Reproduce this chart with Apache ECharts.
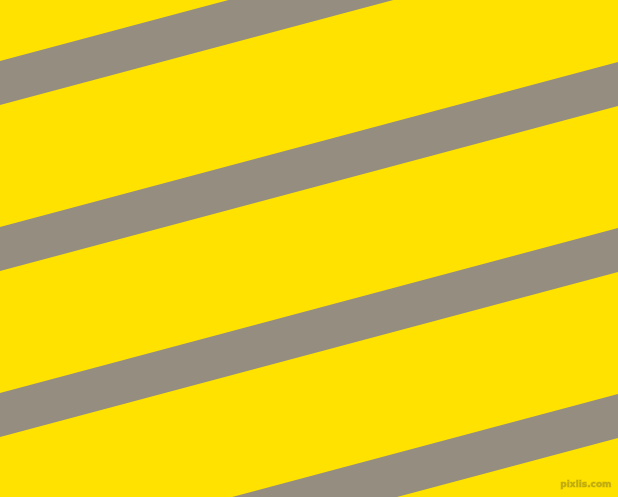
<!DOCTYPE html>
<html>
<head>
<meta charset="utf-8">
<script src="https://cdn.jsdelivr.net/npm/echarts@6/dist/echarts.min.js"></script>
<style>
  html, body { margin: 0; padding: 0; background: #FFE200; }
  #main { width: 618px; height: 497px; }
</style>
</head>
<body>
<div id="main"></div>
<script>
// stripes: y of the top edge at the left (x=0) and right (x=618) sides
var stripeLeftTop = [61, 227, 393, 559];
var stripeRightTop = [-104, 62, 228, 394];
var stripeThickness = [44, 44, 44, 44];
var watermark = 'pixlis.com';

var myChart = echarts.init(document.getElementById('main'));

var stripeData = [];
for (var i = 0; i < stripeLeftTop.length; i++) {
  stripeData.push([stripeLeftTop[i], stripeRightTop[i], stripeThickness[i]]);
}

myChart.setOption({
  backgroundColor: '#FFE200',
  animation: false,
  grid: { left: 0, right: 0, top: 0, bottom: 0 },
  xAxis: { type: 'value', min: 0, max: 618, show: false },
  yAxis: { type: 'value', min: 0, max: 497, inverse: true, show: false },
  graphic: [{
    type: 'text',
    right: 6,
    bottom: 7,
    style: {
      text: watermark,
      fill: 'rgba(160,145,30,0.6)',
      stroke: 'rgba(200,180,0,0.5)',
      lineWidth: 1,
      font: 'bold 9px Verdana, "DejaVu Sans", sans-serif'
    }
  }],
  series: [{
    type: 'custom',
    clip: true,
    data: stripeData,
    renderItem: function (params, api) {
      var l = api.value(0), r = api.value(1), t = api.value(2);
      var pts = [
        api.coord([0, l]),
        api.coord([618, r]),
        api.coord([618, r + t]),
        api.coord([0, l + t])
      ];
      return {
        type: 'polygon',
        shape: { points: pts },
        style: { fill: '#948D80' }
      };
    }
  }]
});
</script>
</body>
</html>
